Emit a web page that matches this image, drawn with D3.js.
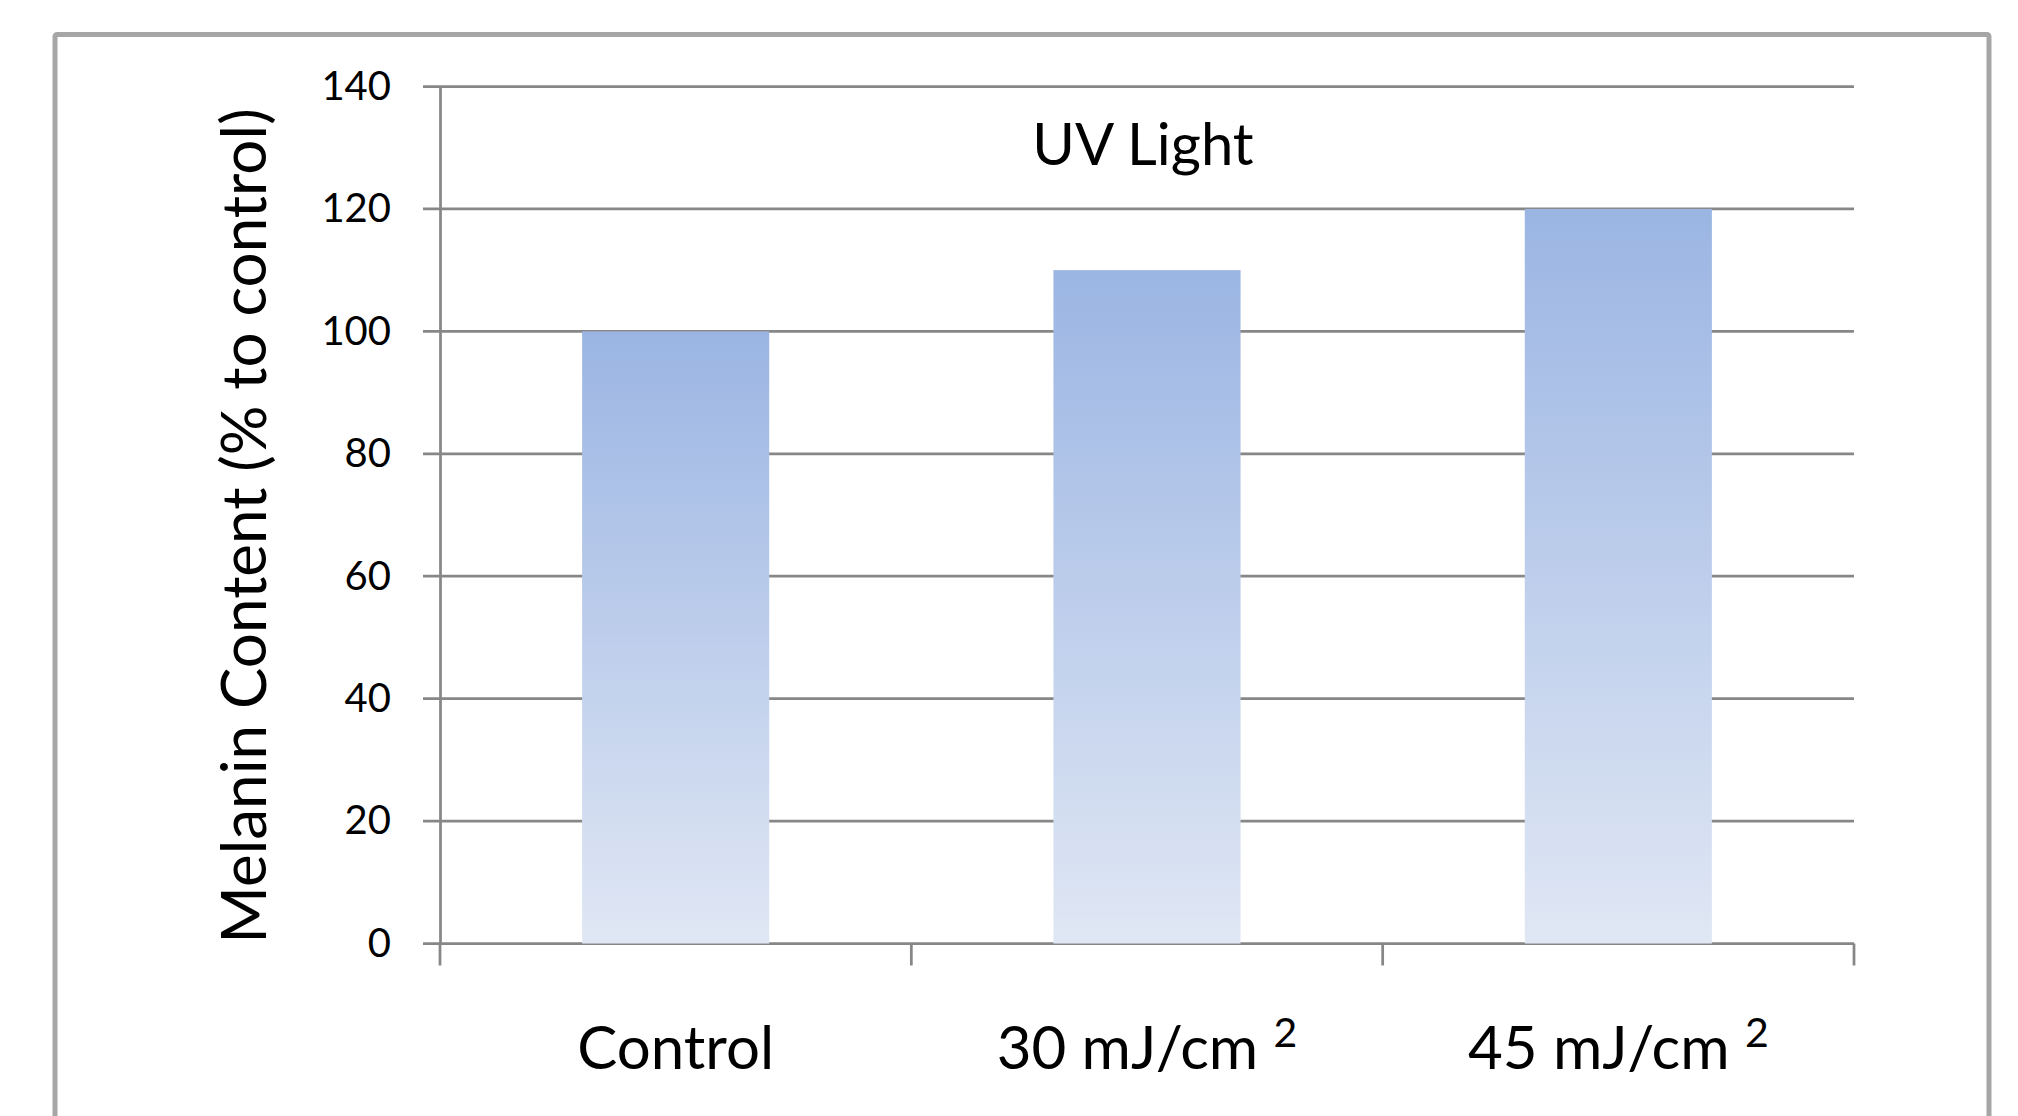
<!DOCTYPE html>
<html>
<head>
<meta charset="utf-8">
<script src="https://cdn.jsdelivr.net/npm/d3@7"></script>
<style>
  body { margin: 0; background: #ffffff; }
  svg { display: block; }
</style>
</head>
<body>
<div id="vizcont"></div>
<script>
// chart data
var categories = ["Control", "30 mJ/cm", "45 mJ/cm"];
var superscripts = ["", "2", "2"];
var melanin = [100, 110, 120];
var yTicks = [0, 20, 40, 60, 80, 100, 120, 140];
var chartTitle = "UV Light";
var yTitle = "Melanin Content (% to control)";

function draw_bars() {
	var width = 2018, height = 1116;
	// plot area in page pixels
	var plot = {left: 440, right: 1854, top: 86.5, bottom: 943.5};

	var svg = d3.select("#vizcont")
		.append("svg")
		.attr("width", width)
		.attr("height", height);

	// gradient for the bars, light at the bottom
	var grad = svg.append("defs")
		.append("linearGradient")
		.attr("id", "barGrad")
		.attr("x1", 0).attr("y1", 0)
		.attr("x2", 0).attr("y2", 1);
	grad.append("stop").attr("offset", "0%").attr("stop-color", "#9bb5e3");
	grad.append("stop").attr("offset", "100%").attr("stop-color", "#e0e7f4");

	// outer frame
	svg.append("rect")
		.attr("x", 55)
		.attr("y", 34.5)
		.attr("width", 1934)
		.attr("height", 1200)
		.attr("rx", 2)
		.style("fill", "none")
		.style("stroke", "#a6a6a6")
		.style("stroke-width", 5);

	var x = d3.scaleBand()
		.domain(categories)
		.range([plot.left, plot.right])
		.padding(0);

	var y = d3.scaleLinear()
		.domain([0, 140])
		.range([plot.bottom, plot.top]);

	// gridlines (they run a bit left of the axis, like ticks)
	svg.append("g")
		.selectAll("line")
		.data(yTicks)
		.enter()
		.append("line")
		.attr("x1", plot.left - 17)
		.attr("x2", plot.right)
		.attr("y1", function(d) { return y(d); })
		.attr("y2", function(d) { return y(d); })
		.style("stroke", "#878787")
		.style("stroke-width", 2.75);

	// bars
	var barFrac = 0.397;
	svg.append("g")
		.selectAll("rect")
		.data(melanin)
		.enter()
		.append("rect")
		.attr("x", function(d, i) { return x(categories[i]) + x.bandwidth() * (1 - barFrac) / 2; })
		.attr("width", x.bandwidth() * barFrac)
		.attr("y", function(d) { return y(d); })
		.attr("height", function(d) { return y(0) - y(d); })
		.style("fill", "url(#barGrad)");

	// y axis
	var yAxis = svg.append("g")
		.attr("transform", "translate(" + plot.left + ",0)")
		.call(d3.axisLeft(y).tickValues(yTicks).tickSizeInner(17).tickSizeOuter(0).tickPadding(32));
	yAxis.select(".domain")
		.style("stroke", "#878787")
		.style("stroke-width", 2.75);
	yAxis.selectAll(".tick line").remove();
	yAxis.selectAll(".tick text")
		.style("font", "40px Lato")
		.style("fill", "#000000");

	// x axis: line at zero, ticks between the categories
	var xTickPos = categories.map(function(c) { return x(c); }).concat([x.range()[1]]);
	svg.append("g")
		.selectAll("line")
		.data(xTickPos)
		.enter()
		.append("line")
		.attr("x1", function(d) { return d; })
		.attr("x2", function(d) { return d; })
		.attr("y1", y(0))
		.attr("y2", y(0) + 22)
		.style("stroke", "#878787")
		.style("stroke-width", 2.75);

	// category labels with superscripts
	var labels = svg.append("g")
		.selectAll("text")
		.data(categories)
		.enter()
		.append("text")
		.attr("x", function(d) { return x(d) + x.bandwidth() / 2; })
		.attr("y", 1069)
		.attr("text-anchor", "middle")
		.style("font", "60px Lato")
		.style("fill", "#000000");
	labels.append("tspan")
		.text(function(d, i) { return superscripts[i] ? d + " " : d; });
	labels.append("tspan")
		.attr("dy", -22)
		.style("font-size", "41px")
		.text(function(d, i) { return superscripts[i]; });

	// chart title
	svg.append("text")
		.attr("x", 1143)
		.attr("y", 165)
		.attr("text-anchor", "middle")
		.style("font", "58px Lato")
		.style("fill", "#000000")
		.text(chartTitle);

	// y axis title
	svg.append("text")
		.attr("transform", "translate(266,526) rotate(-90)")
		.attr("text-anchor", "middle")
		.style("font", "62px Lato")
		.style("fill", "#000000")
		.text(yTitle);
}

draw_bars();
</script>
</body>
</html>
